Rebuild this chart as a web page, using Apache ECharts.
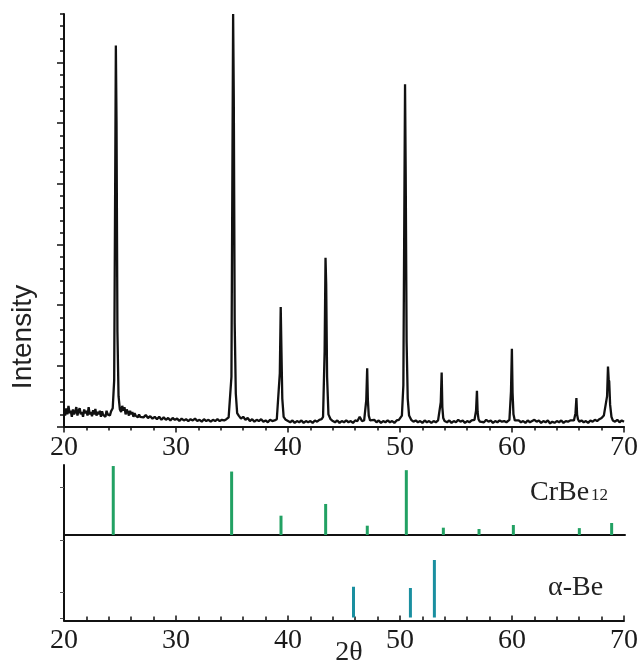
<!DOCTYPE html>
<html><head><meta charset="utf-8">
<script src="https://cdn.jsdelivr.net/npm/echarts@6/dist/echarts.min.js"></script>
<style>html,body{margin:0;padding:0;background:#fff}#c{width:641px;height:661px}</style>
</head><body><div id="c"></div>
<script>
// XRD pattern (2θ, intensity in axis minor-tick units)
const twoTheta = [
20.0,20.1,20.2,20.3,20.4,20.5,20.6,20.7,20.8,20.9,21.0,21.1,21.2,21.3,21.4,21.5,21.6,21.7,21.8,21.9,22.0,22.1,22.2,22.3,22.4,22.5,22.6,22.7,22.8,22.9,23.0,23.1,23.2,23.3,23.4,23.5,23.6,23.7,23.8,23.9,24.0,24.1,24.2,
24.35,24.48,24.58,24.63,24.69,24.77,24.87,24.99,
25.1,25.2,25.3,25.4,25.5,25.6,25.7,25.8,25.9,26.0,26.1,26.2,26.3,26.4,26.5,26.6,26.7,26.8,26.9,
27.1,27.3,27.5,27.7,27.9,28.1,28.3,28.5,28.7,28.9,29.1,29.3,29.5,29.7,29.9,
30.1,30.3,30.5,30.7,30.9,31.1,31.3,31.5,31.7,31.9,32.1,32.3,32.5,32.7,32.9,33.1,33.3,33.5,33.7,33.9,34.1,34.3,34.5,34.7,
34.82,34.95,35.05,35.10,35.16,35.24,35.34,35.46,
35.6,35.8,36.0,36.2,36.4,36.6,36.8,37.0,37.2,37.4,37.6,37.8,38.0,38.2,38.4,38.6,38.8,39.0,
39.13,39.27,39.35,39.41,39.49,39.61,
39.8,40.0,40.2,40.4,40.6,40.8,41.0,41.2,41.4,41.6,41.8,42.0,42.2,42.4,42.6,42.8,43.0,
43.13,43.27,43.35,43.41,43.49,43.61,
43.8,44.0,44.2,44.4,44.6,44.8,45.0,45.2,45.4,45.6,45.8,46.0,46.2,46.4,46.6,46.8,
46.85,46.99,47.07,47.13,47.21,47.33,
47.5,47.7,47.9,48.1,48.3,48.5,48.7,48.9,49.1,49.3,49.5,49.7,49.9,50.0,
50.17,50.30,50.40,50.45,50.51,50.59,50.69,50.81,
51.0,51.2,51.4,51.6,51.8,52.0,52.2,52.4,52.6,52.8,53.0,53.2,53.4,
53.50,53.64,53.72,53.78,53.86,53.98,
54.2,54.4,54.6,54.8,55.0,55.2,55.4,55.6,55.8,56.0,56.2,56.4,
56.65,56.79,56.87,56.93,57.01,57.13,
57.3,57.5,57.7,57.9,58.1,58.3,58.5,58.7,58.9,59.1,59.3,59.5,
59.77,59.91,59.99,60.05,60.13,60.25,
60.4,60.6,60.8,61.0,61.2,61.4,61.6,61.8,62.0,62.2,62.4,62.6,62.8,63.0,63.2,63.4,63.6,63.8,64.0,64.2,64.4,64.6,64.8,65.0,65.2,
65.53,65.67,65.75,65.81,65.89,66.01,
66.2,66.4,66.6,66.8,67.0,67.2,67.4,67.6,67.8,68.0,68.2,
68.35,68.49,68.57,68.63,68.68,68.76,68.88,
69.0,69.2,69.4,69.6,69.8,70.0
];
const intensity = [
1.3,0.9,1.5,1.0,1.7,1.1,1.3,0.8,1.4,1.0,1.2,1.6,0.9,1.3,1.5,1.0,1.2,0.8,1.4,1.1,1.3,0.9,1.6,1.0,1.2,0.85,1.35,1.0,1.45,0.9,1.2,1.0,1.3,0.8,1.25,0.95,1.1,0.8,1.3,1.0,1.15,0.9,1.25,
1.5,3.8,22,31.4,25,7.8,2.5,1.4,
1.2,1.7,1.3,1.6,1.0,1.4,1.2,0.9,1.3,1.0,1.2,0.8,1.1,0.9,1.05,0.75,1.0,0.8,0.95,
0.75,0.95,0.7,0.85,0.65,0.8,0.6,0.8,0.55,0.75,0.55,0.7,0.5,0.7,0.55,
0.65,0.45,0.65,0.5,0.6,0.45,0.6,0.5,0.65,0.45,0.55,0.4,0.6,0.45,0.55,0.4,0.55,0.45,0.6,0.45,0.55,0.5,0.6,0.75,
0.9,4.1,24,34,27,8.5,2.7,1.1,
0.9,0.65,0.8,0.55,0.7,0.45,0.6,0.4,0.55,0.45,0.6,0.4,0.5,0.35,0.55,0.45,0.5,0.6,
0.7,4.4,9.85,6.5,2.3,0.8,
0.55,0.45,0.35,0.5,0.3,0.45,0.35,0.5,0.3,0.45,0.35,0.45,0.3,0.5,0.4,0.55,0.6,
0.8,6.2,13.9,11.7,4.1,1.0,
0.6,0.45,0.35,0.5,0.3,0.45,0.35,0.5,0.35,0.45,0.3,0.5,0.45,0.8,0.45,0.5,
0.6,2.2,4.8,2.2,0.9,0.5,
0.4,0.55,0.35,0.5,0.3,0.45,0.35,0.5,0.35,0.45,0.3,0.5,0.55,0.5,
0.9,3.4,20,28.2,20.7,7,2.3,0.9,
0.55,0.4,0.5,0.35,0.45,0.3,0.5,0.35,0.45,0.3,0.45,0.35,0.5,
0.55,2.0,4.45,1.6,0.7,0.45,
0.35,0.5,0.3,0.45,0.35,0.55,0.4,0.5,0.3,0.45,0.35,0.5,
0.55,1.3,2.95,1.2,0.6,0.4,
0.5,0.35,0.55,0.4,0.5,0.3,0.45,0.35,0.5,0.4,0.45,0.35,
0.55,2.9,6.4,2.8,1.0,0.5,
0.4,0.5,0.35,0.45,0.3,0.5,0.35,0.45,0.55,0.4,0.5,0.3,0.45,0.35,0.5,0.25,0.4,0.3,0.45,0.35,0.5,0.3,0.45,0.4,0.5,
0.5,1.1,2.35,1.0,0.6,0.4,
0.5,0.35,0.45,0.3,0.5,0.4,0.55,0.45,0.6,0.7,0.9,
1.0,2.5,4.95,3.9,3.7,1.8,0.8,
0.5,0.4,0.55,0.35,0.5,0.4
];
// Reference patterns (relative intensity, %)
const crbePos = [24.39, 34.94, 39.34, 43.32, 47.03, 50.51, 53.81, 56.99, 60.05, 65.93, 68.81];
const crbeInt = [100, 92, 28, 45, 13.5, 94, 10.6, 8.7, 14.5, 10, 17.4];
const bePos = [45.85, 50.93, 53.07];
const beInt = [53.5, 51.3, 100];
const xTickLabels = ['20','30','40','50','60','70'];
const yMajorTicks = [0, 5, 10, 15, 20, 25, 30];

const trace = twoTheta.map((x, i) => [x, intensity[i]]);
const crbe = crbePos.map((x, i) => [x, crbeInt[i]]);
const abe = bePos.map((x, i) => [x, beInt[i]]);

const serif = 'Liberation Serif';
const black = '#111';
const lblStyle = { color: '#1a1a1a', fontFamily: serif, fontSize: 28 };

const chart = echarts.init(document.getElementById('c'), null, { renderer: 'canvas' });
chart.setOption({
  animation: false,
  backgroundColor: '#fff',
  grid: [
    { left: 64, right: 16, top: 14, height: 412.5 },
    { left: 64, right: 16, top: 465, height: 70 },
    { left: 64, right: 16, top: 535, height: 85.5 }
  ],
  xAxis: [
    { gridIndex: 0, type: 'value', min: 20, max: 70, interval: 10,
      axisLine: { lineStyle: { color: black, width: 2 } },
      axisTick: { inside: false, length: 6, lineStyle: { color: black, width: 1.5 } },
      minorTick: { show: true, splitNumber: 5, length: 4, lineStyle: { color: black, width: 1.5 } },
      splitLine: { show: false },
      axisLabel: Object.assign({ margin: 7, showMinLabel: true, showMaxLabel: true,
        formatter: v => xTickLabels[Math.round((v - 20) / 10)] }, lblStyle) },
    { gridIndex: 1, type: 'value', min: 20, max: 70, interval: 10,
      axisLine: { onZero: false, lineStyle: { color: black, width: 2 } },
      axisTick: { show: false }, axisLabel: { show: false }, splitLine: { show: false } },
    { gridIndex: 2, type: 'value', min: 20, max: 70, interval: 10,
      axisLine: { onZero: false, lineStyle: { color: black, width: 2 } },
      axisTick: { inside: true, length: 5, lineStyle: { color: black, width: 1.5 } },
      minorTick: { show: true, splitNumber: 5, length: 4, lineStyle: { color: black, width: 1.5 } },
      splitLine: { show: false },
      axisLabel: Object.assign({ margin: 6, showMinLabel: true, showMaxLabel: true,
        formatter: v => xTickLabels[Math.round((v - 20) / 10)] }, lblStyle) }
  ],
  yAxis: [
    { gridIndex: 0, type: 'value', min: 0, max: 34, interval: 1, position: 'left',
      axisLine: { show: true, lineStyle: { color: black, width: 2 } },
      axisTick: { show: true, inside: false, length: 4, lineStyle: { color: black, width: 1.5 } },
      axisLabel: { show: false }, splitLine: { show: false } },
    { gridIndex: 0, type: 'value', min: 0, max: 34, interval: 5, position: 'left',
      axisLine: { show: false },
      axisTick: { show: true, inside: false, length: 7, customValues: yMajorTicks, lineStyle: { color: black, width: 1.5 } },
      axisLabel: { show: false }, splitLine: { show: false } },
    { gridIndex: 1, type: 'value', min: 0, max: 101.5, position: 'left',
      axisLine: { show: true, onZero: false, lineStyle: { color: black, width: 2 } },
      axisTick: { show: true, length: 4, customValues: [69.6], lineStyle: { color: '#555', width: 1 } },
      axisLabel: { show: false }, splitLine: { show: false } },
    { gridIndex: 2, type: 'value', min: -5.2, max: 143.5, position: 'left',
      axisLine: { show: true, onZero: false, lineStyle: { color: black, width: 2 } },
      axisTick: { show: true, length: 4, customValues: [134.8, 44.3, -0.9], lineStyle: { color: '#555', width: 1 } },
      axisLabel: { show: false }, splitLine: { show: false } }
  ],
  series: [
    { type: 'line', xAxisIndex: 0, yAxisIndex: 0, data: trace, showSymbol: false, symbol: 'none',
      lineStyle: { color: black, width: 2.3 }, clip: true },
    { type: 'bar', xAxisIndex: 1, yAxisIndex: 2, data: crbe, barWidth: 3,
      itemStyle: { color: '#22a163' } },
    { type: 'bar', xAxisIndex: 2, yAxisIndex: 3, data: abe, barWidth: 3,
      itemStyle: { color: '#1a8fa0' } }
  ],
  graphic: [
    { type: 'text', x: 23, y: 337, rotation: Math.PI / 2,
      style: { text: 'Intensity', fontFamily: 'Liberation Sans', fontSize: 28, fill: '#222', align: 'center', verticalAlign: 'middle' } },
    { type: 'text', x: 530, y: 492.5,
      style: { text: 'CrBe', fontFamily: serif, fontSize: 28, fill: '#222', align: 'left', verticalAlign: 'middle' } },
    { type: 'text', x: 591, y: 496,
      style: { text: '12', fontFamily: serif, fontSize: 17, fill: '#222', align: 'left', verticalAlign: 'middle' } },
    { type: 'text', x: 548, y: 588,
      style: { text: 'α-Be', fontFamily: serif, fontSize: 28, fill: '#222', align: 'left', verticalAlign: 'middle' } },
    { type: 'text', x: 349, y: 652.5,
      style: { text: '2θ', fontFamily: serif, fontSize: 28, fill: '#222', align: 'center', verticalAlign: 'middle' } }
  ]
});
</script></body></html>
